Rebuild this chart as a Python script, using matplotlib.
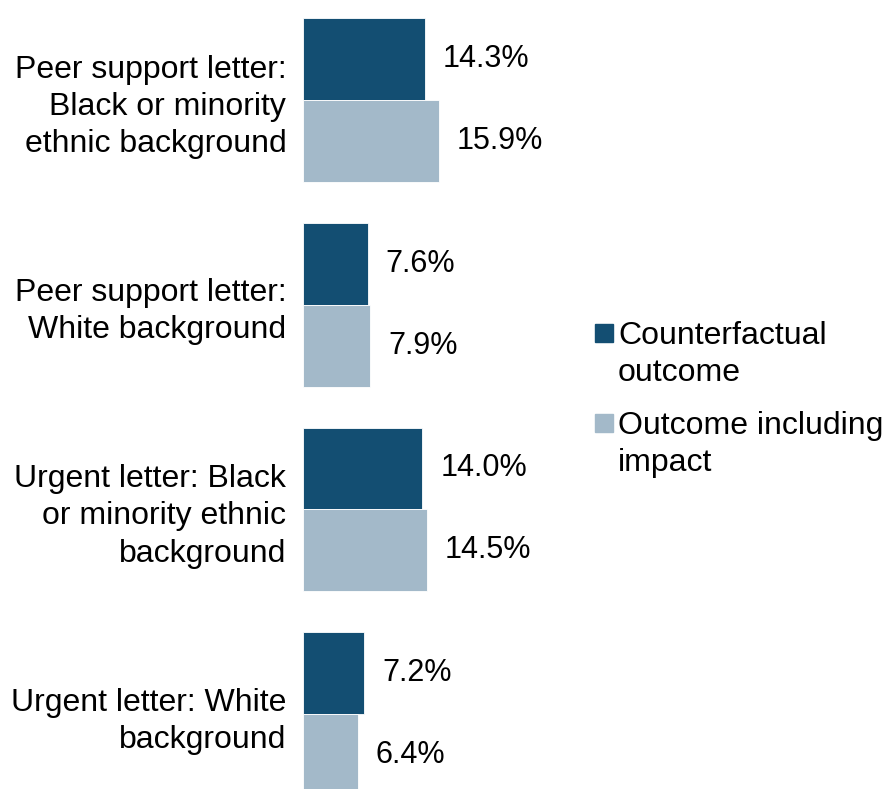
import matplotlib
matplotlib.use("Agg")
import matplotlib.pyplot as plt
import numpy as np
from matplotlib.patches import Rectangle

# ── Datos ────────────────────────────────────────────────────────────────────

categories = [
    "Peer support letter:\nBlack or minority\nethnic background",
    "Peer support letter:\nWhite background",
    "Urgent letter: Black\nor minority ethnic\nbackground",
    "Urgent letter: White\nbackground",
]
counterfactual = [14.3, 7.6, 14.0, 7.2]
with_impact = [15.9, 7.9, 14.5, 6.4]
series_names = ["Counterfactual\noutcome", "Outcome including\nimpact"]

DARK = "#134e72"
LIGHT = "#a3b9c9"
W, H = 884, 789

plt.rcParams["font.family"] = ["Liberation Sans", "DejaVu Sans"]

fig = plt.figure(figsize=(W / 100, H / 100), dpi=100)
ax = fig.add_axes([303 / W, 0, 277 / W, 1])

y = np.arange(len(categories))
h = 0.4
b1 = ax.barh(y - h / 2, counterfactual, height=h, color=DARK, edgecolor="white", linewidth=0.6)
b2 = ax.barh(y + h / 2, with_impact, height=h, color=LIGHT, edgecolor="white", linewidth=0.6)

for bars, vals in ((b1, counterfactual), (b2, with_impact)):
    for bar, v in zip(bars, vals):
        ax.annotate(f"{v:.1f}%", (bar.get_width(), bar.get_y() + bar.get_height() / 2),
                    xytext=(13, 0), textcoords="offset points",
                    ha="left", va="center", fontsize=22, color="black")

ax.set_xlim(0, 32.5)
ax.set_ylim(3.366, -0.4885)
ax.set_yticks(y)
ax.set_yticklabels(categories, fontsize=23, color="black", linespacing=1.31)
ax.tick_params(axis="y", length=0, pad=12)
ax.set_xticks([])
for s in ax.spines.values():
    s.set_visible(False)

# leyenda a mano: cuadro alineado con la primera línea
for i, (name, col) in enumerate(zip(series_names, [DARK, LIGHT])):
    base = 343 + i * 90
    fig.add_artist(Rectangle((595 / W, 1 - (base - 1) / H), 18 / W, 18 / H,
                             transform=fig.transFigure, color=col))
    # va="baseline" usa la última línea
    fig.text(618 / W, 1 - (base + 38) / H, name, fontsize=23, color="black",
             va="baseline", ha="left", linespacing=1.31)

fig.savefig("out.png", dpi=100)
